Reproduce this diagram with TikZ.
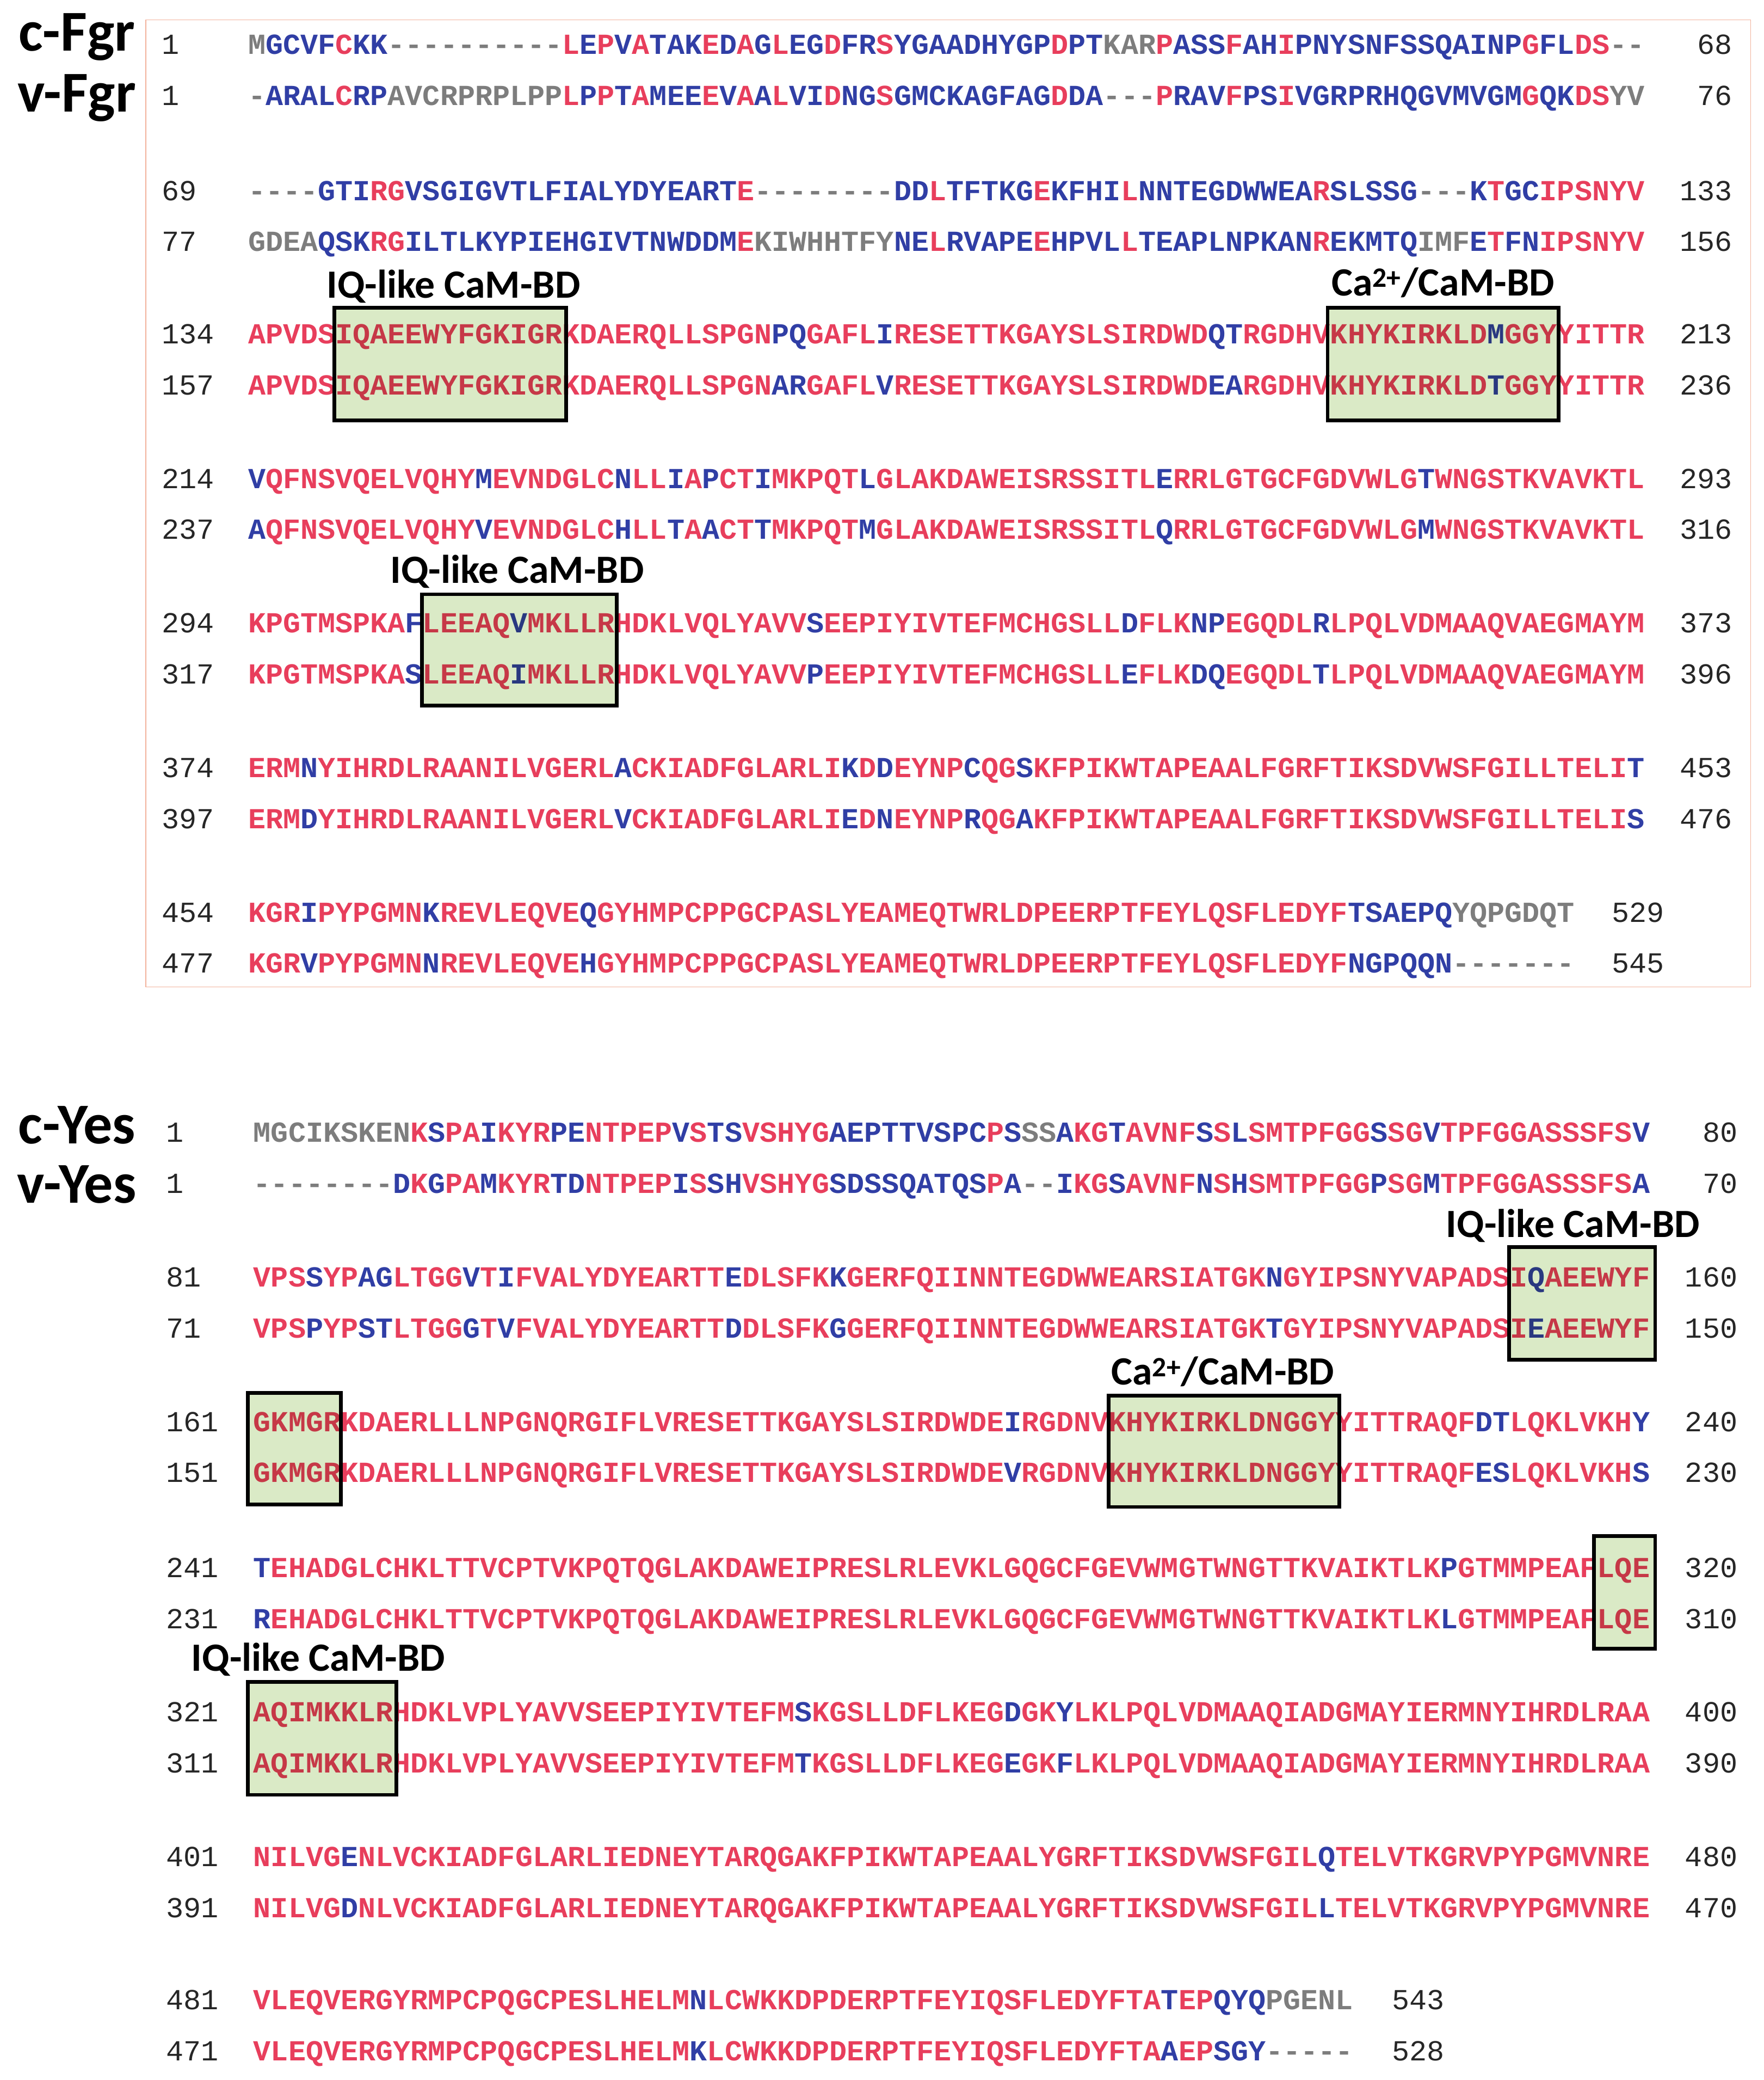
\documentclass[tikz,border=0pt]{standalone}
\usepackage{fontspec}
\newfontfamily\seqfont{Liberation Mono}[BoldFont={* Bold}]
\newfontfamily\labfont{Carlito}
\definecolor{sred}{RGB}{232,62,92}
\definecolor{sblue}{RGB}{48,62,165}
\definecolor{sgrey}{RGB}{125,125,125}
\definecolor{boxfill}{RGB}{218,234,198}
\definecolor{frame}{RGB}{242,178,155}
\ExplSyntaxOn
\str_new:N \l_sqa_str
\str_new:N \l_sqb_str
\NewDocumentCommand\seqline{mm}{
  \str_set:Nn \l_sqa_str {#1}
  \str_set:Nn \l_sqb_str {#2}
  \int_step_inline:nn {\str_count:N \l_sqa_str}
   {
     \str_if_eq:eeTF {\str_item:Nn \l_sqa_str {##1}} {\str_uppercase:f {\str_item:Nn \l_sqa_str {##1}}}
      {
        \str_if_eq:eeTF {\str_item:Nn \l_sqa_str {##1}} {-}
         {\textcolor{sgrey}{-}}
         {
           \str_if_eq:eeTF {\str_item:Nn \l_sqb_str {##1}} {-}
            {\textcolor{sgrey}{\str_item:Nn \l_sqa_str {##1}}}
            {
              \str_if_eq:eeTF {\str_item:Nn \l_sqa_str {##1}} {\str_uppercase:f {\str_item:Nn \l_sqb_str {##1}}}
               {\textcolor{sred}{\str_item:Nn \l_sqa_str {##1}}}
               {\textcolor{sblue}{\str_item:Nn \l_sqa_str {##1}}}
            }
         }
      }
      {\textcolor{sgrey}{\str_uppercase:f {\str_item:Nn \l_sqa_str {##1}}}}
   }
}
\ExplSyntaxOff
\tikzset{
  seq/.style={inner sep=0pt,font=\seqfont\bfseries\fontsize{31.2}{36}\selectfont},
  num/.style={inner sep=0pt,text=black!85,font=\seqfont\fontsize{31.2}{36}\selectfont},
  lab/.style={inner sep=0pt,font=\labfont\bfseries\fontsize{43}{48}\selectfont},
  big/.style={inner sep=0pt,font=\labfont\bfseries\fontsize{62}{70}\selectfont},
  cambox/.style={draw=black,line width=4pt,fill=boxfill,blend mode=multiply},
}
\newcommand\pairseq[8]{%
 \node[num,anchor=base west] (#1an) at (#2,#4) {#5};
 \node[num,anchor=base west] (#1bn) at (#2,#4+38.5) {#6};
 \node[seq,anchor=base west] (#1a) at (#3,#4) {\seqline{#7}{#8}};
 \node[seq,anchor=base west] (#1b) at (#3,#4+38.5) {\seqline{#8}{#7}};
}
\newcommand\rnums[4]{%
 \node[num,anchor=base east,xshift=#2] (#1ar) at (#1a.base east) {#3};
 \node[num,anchor=base east,xshift=#2] (#1br) at (#1b.base east) {#4};
}
\begin{document}
\begin{tikzpicture}[x=0.05cm,y=-0.05cm]
\useasboundingbox[fill=white] (0,0) rectangle (1330,1568);
\draw[frame,line width=1pt] (110,15) rectangle (1320,744);
\node[big] (cfgr) at (58,28) {c-Fgr};
\node[big] (vfgr) at (58,74) {v-Fgr};
\node[big] (cyes) at (58,848) {c-Yes};
\node[big] (vyes) at (58,893) {v-Yes};
% Fgr
\pairseq{fa}{122}{187}{41}{1}{1}{mGCVFCKK----------LEPVATAKEDAGLEGDFRSYGAADHYGPDPTkarPASSFAHIPNYSNFSSQAINPGFLDS--}{-ARALCRPavcrprplppLPPTAMEEEVAALVIDNGSGMCKAGFAGDDA---PRAVFPSIVGRPRHQGVMVGMGQKDSyv}
\rnums{fa}{94pt}{68}{76}
\pairseq{fb}{122}{187}{151}{69}{77}{----GTIRGVSGIGVTLFIALYDYEARTE--------DDLTFTKGEKFHILNNTEGDWWEARSLSSG---KTGCIPSNYV}{gdeaQSKRGILTLKYPIEHGIVTNWDDMEKIWHHTFYNELRVAPEEHPVLLTEAPLNPKANREKMTQIMFETFNIPSNYV}
\rnums{fb}{94pt}{133}{156}
\pairseq{fc}{122}{187}{259}{134}{157}{APVDSIQAEEWYFGKIGRKDAERQLLSPGNPQGAFLIRESETTKGAYSLSIRDWDQTRGDHVKHYKIRKLDMGGYYITTR}{APVDSIQAEEWYFGKIGRKDAERQLLSPGNARGAFLVRESETTKGAYSLSIRDWDEARGDHVKHYKIRKLDTGGYYITTR}
\rnums{fc}{94pt}{213}{236}
\pairseq{fd}{122}{187}{368}{214}{237}{VQFNSVQELVQHYMEVNDGLCNLLIAPCTIMKPQTLGLAKDAWEISRSSITLERRLGTGCFGDVWLGTWNGSTKVAVKTL}{AQFNSVQELVQHYVEVNDGLCHLLTAACTTMKPQTMGLAKDAWEISRSSITLQRRLGTGCFGDVWLGMWNGSTKVAVKTL}
\rnums{fd}{94pt}{293}{316}
\pairseq{fe}{122}{187}{477}{294}{317}{KPGTMSPKAFLEEAQVMKLLRHDKLVQLYAVVSEEPIYIVTEFMCHGSLLDFLKNPEGQDLRLPQLVDMAAQVAEGMAYM}{KPGTMSPKASLEEAQIMKLLRHDKLVQLYAVVPEEPIYIVTEFMCHGSLLEFLKDQEGQDLTLPQLVDMAAQVAEGMAYM}
\rnums{fe}{94pt}{373}{396}
\pairseq{ff}{122}{187}{586}{374}{397}{ERMNYIHRDLRAANILVGERLACKIADFGLARLIKDDEYNPCQGSKFPIKWTAPEAALFGRFTIKSDVWSFGILLTELIT}{ERMDYIHRDLRAANILVGERLVCKIADFGLARLIEDNEYNPRQGAKFPIKWTAPEAALFGRFTIKSDVWSFGILLTELIS}
\rnums{ff}{94pt}{453}{476}
\pairseq{fg}{122}{187}{695}{454}{477}{KGRIPYPGMNKREVLEQVEQGYHMPCPPGCPASLYEAMEQTWRLDPEERPTFEYLQSFLEDYFTSAEPQyqpgdqt}{KGRVPYPGMNNREVLEQVEHGYHMPCPPGCPASLYEAMEQTWRLDPEERPTFEYLQSFLEDYFNGPQQN-------}
\rnums{fg}{96pt}{529}{545}
% Fgr boxes
\draw[cambox] (252,232) rectangle (427,317);
\draw[cambox] (1001,232) rectangle (1175,317);
\draw[cambox] (318,448) rectangle (465,532);
\node[lab] (iq1) at (342,216) {IQ-like CaM-BD};
\node[lab] (ca1) at (1088,213) {Ca\textsuperscript{2+}/CaM-BD};
\node[lab] (iq2) at (390,431) {IQ-like CaM-BD};
% Yes
\pairseq{ya}{125}{191}{861}{1}{1}{mgcikskenKSPAIKYRPENTPEPVSTSVSHYGAEPTTVSPCPSSSAKGTAVNFSSLSMTPFGGSSGVTPFGGASSSFSV}{--------DKGPAMKYRTDNTPEPISSHVSHYGSDSSQATQSPA--IKGSAVNFNSHSMTPFGGPSGMTPFGGASSSFSA}
\rnums{ya}{94pt}{80}{70}
\pairseq{yb}{125}{191}{970}{81}{71}{VPSSYPAGLTGGVTIFVALYDYEARTTEDLSFKKGERFQIINNTEGDWWEARSIATGKNGYIPSNYVAPADSIQAEEWYF}{VPSPYPSTLTGGGTVFVALYDYEARTTDDLSFKGGERFQIINNTEGDWWEARSIATGKTGYIPSNYVAPADSIEAEEWYF}
\rnums{yb}{94pt}{160}{150}
\pairseq{yc}{125}{191}{1079}{161}{151}{GKMGRKDAERLLLNPGNQRGIFLVRESETTKGAYSLSIRDWDEIRGDNVKHYKIRKLDNGGYYITTRAQFDTLQKLVKHY}{GKMGRKDAERLLLNPGNQRGIFLVRESETTKGAYSLSIRDWDEVRGDNVKHYKIRKLDNGGYYITTRAQFESLQKLVKHS}
\rnums{yc}{94pt}{240}{230}
\pairseq{yd}{125}{191}{1189}{241}{231}{TEHADGLCHKLTTVCPTVKPQTQGLAKDAWEIPRESLRLEVKLGQGCFGEVWMGTWNGTTKVAIKTLKPGTMMPEAFLQE}{REHADGLCHKLTTVCPTVKPQTQGLAKDAWEIPRESLRLEVKLGQGCFGEVWMGTWNGTTKVAIKTLKLGTMMPEAFLQE}
\rnums{yd}{94pt}{320}{310}
\pairseq{ye}{125}{191}{1298}{321}{311}{AQIMKKLRHDKLVPLYAVVSEEPIYIVTEFMSKGSLLDFLKEGDGKYLKLPQLVDMAAQIADGMAYIERMNYIHRDLRAA}{AQIMKKLRHDKLVPLYAVVSEEPIYIVTEFMTKGSLLDFLKEGEGKFLKLPQLVDMAAQIADGMAYIERMNYIHRDLRAA}
\rnums{ye}{94pt}{400}{390}
\pairseq{yf}{125}{191}{1407}{401}{391}{NILVGENLVCKIADFGLARLIEDNEYTARQGAKFPIKWTAPEAALYGRFTIKSDVWSFGILQTELVTKGRVPYPGMVNRE}{NILVGDNLVCKIADFGLARLIEDNEYTARQGAKFPIKWTAPEAALYGRFTIKSDVWSFGILLTELVTKGRVPYPGMVNRE}
\rnums{yf}{94pt}{480}{470}
\pairseq{yg}{125}{191}{1515}{481}{471}{VLEQVERGYRMPCPQGCPESLHELMNLCWKKDPDERPTFEYIQSFLEDYFTATEPQYQpgenl}{VLEQVERGYRMPCPQGCPESLHELMKLCWKKDPDERPTFEYIQSFLEDYFTAAEPSGY-----}
\rnums{yg}{98pt}{543}{528}
% Yes boxes
\draw[cambox] (1138,940) rectangle (1248,1025);
\draw[cambox] (187,1050) rectangle (257,1134);
\draw[cambox] (836,1052) rectangle (1010,1136);
\draw[cambox] (1202,1158) rectangle (1248,1243);
\draw[cambox] (187,1268) rectangle (299,1353);
\node[lab] (iq3) at (1186,924) {IQ-like CaM-BD};
\node[lab] (ca2) at (922,1034) {Ca\textsuperscript{2+}/CaM-BD};
\node[lab] (iq4) at (240,1251) {IQ-like CaM-BD};
\end{tikzpicture}
\end{document}
